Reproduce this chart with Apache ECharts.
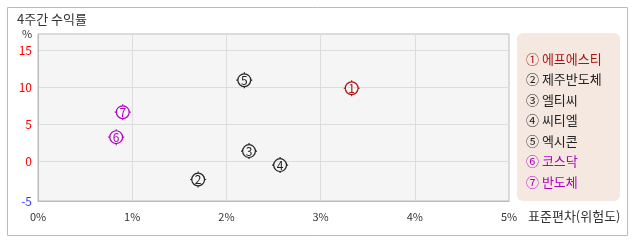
<!DOCTYPE html>
<html><head><meta charset="utf-8">
<script src="https://cdn.jsdelivr.net/npm/echarts@6/dist/echarts.min.js"></script>
<style>html,body{margin:0;padding:0;background:#fff}#c{width:638px;height:242px}</style>
</head><body><div id="c"></div>
<script>
const names = ['① 에프에스티','② 제주반도체','③ 엘티씨','④ 씨티엘','⑤ 엑시콘','⑥ 코스닥','⑦ 반도체'];
const markNums = ['1','2','3','4','5','6','7'];
const xVals = [3.33, 1.70, 2.24, 2.57, 2.19, 0.83, 0.90];
const yVals = [9.86, -2.49, 1.35, -0.54, 10.95, 3.24, 6.62];
const colors = ['#a81414','#222222','#222222','#222222','#222222','#b000c0','#b000c0'];
const xTicks = [0,1,2,3,4,5];
const yTickValues = [-5.4, 0, 5, 10, 15];
const yTickLabels = ['-5','0','5','10','15'];
const yTickColors = ['#3b3bff','#ff0000','#ff0000','#ff0000','#ff0000'];

const FONT = '"Noto Sans CJK KR", sans-serif';
const markerPath = 'path://M10,0L10,2M10,18L10,20M0,10L2,10M18,10L20,10M2,10A8,8,0,1,1,18,10A8,8,0,1,1,2,10Z';

function tickIndex(v) {
  const n = Number(v);
  let best = -1, bd = 1e9;
  yTickValues.forEach((t, i) => { const d = Math.abs(t - n); if (d < bd) { bd = d; best = i; } });
  return bd < 0.01 ? best : -1;
}

const chart = echarts.init(document.getElementById('c'));
const series = names.map((n, i) => ({
  type: 'scatter',
  name: n,
  data: [[xVals[i], yVals[i]]],
  symbol: markerPath,
  symbolSize: 16,
  itemStyle: { color: 'rgba(0,0,0,0)', borderColor: colors[i], borderWidth: 1.2, opacity: 1 },
  label: { show: true, position: 'inside', formatter: markNums[i], color: colors[i], fontSize: 12, fontFamily: FONT },
  emphasis: { disabled: true },
  z: 5
}));

chart.setOption({
  animation: false,
  textStyle: { fontFamily: FONT },
  graphic: [
    { type: 'rect', shape: { x: 7.5, y: 7.5, width: 620, height: 228 }, style: { fill: 'none', stroke: '#bbbbbb', lineWidth: 1 }, z: -10 },
    { type: 'rect', shape: { x: 517, y: 33, width: 103, height: 168, r: 6 }, style: { fill: '#f5e8e1' }, z: -5 },
    { type: 'text', left: 17, top: 13, style: { text: '4주간 수익률', font: '13px ' + FONT, fill: '#333' } },
    { type: 'text', left: 22, top: 28, style: { text: '%', font: '11px ' + FONT, fill: '#333' } },
    { type: 'text', left: 528, top: 210, style: { text: '표준편차(위험도)', font: '13px ' + FONT, fill: '#333' } }
  ],
  grid: { left: 38, right: 129, top: 34, bottom: 41, show: true, backgroundColor: '#f5f5f5', borderColor: '#bbbbbb', borderWidth: 1 },
  legend: {
    orient: 'vertical', left: 520, top: 47,
    icon: 'none', itemWidth: 0, itemHeight: 14, itemGap: 7,
    selectedMode: false,
    data: names.map((n, i) => ({ name: n, textStyle: { color: colors[i] } })),
    textStyle: { fontSize: 13, fontFamily: FONT, padding: [0,0,0,-4] }
  },
  xAxis: {
    type: 'value', min: xTicks[0], max: xTicks[xTicks.length-1], interval: 1,
    axisLine: { show: true, onZero: false, lineStyle: { color: '#bbbbbb' } },
    axisTick: { show: false },
    splitLine: { show: true, lineStyle: { color: '#dddddd' } },
    axisLabel: { formatter: '{value}%', color: '#333', fontSize: 11, margin: 10, fontFamily: FONT }
  },
  yAxis: {
    type: 'value', min: -5.4, max: 17.2,
    axisLine: { show: true, onZero: false, lineStyle: { color: '#bbbbbb' } },
    axisTick: { show: false, customValues: yTickValues },
    splitLine: { show: true, lineStyle: { color: '#dddddd' } },
    axisLabel: {
      customValues: yTickValues,
      formatter: v => { const k = tickIndex(v); return k >= 0 ? yTickLabels[k] : ''; },
      color: v => { const k = tickIndex(v); return k >= 0 ? yTickColors[k] : '#333'; },
      fontSize: 12, margin: 6, fontFamily: FONT
    }
  },
  series
});
</script></body></html>
